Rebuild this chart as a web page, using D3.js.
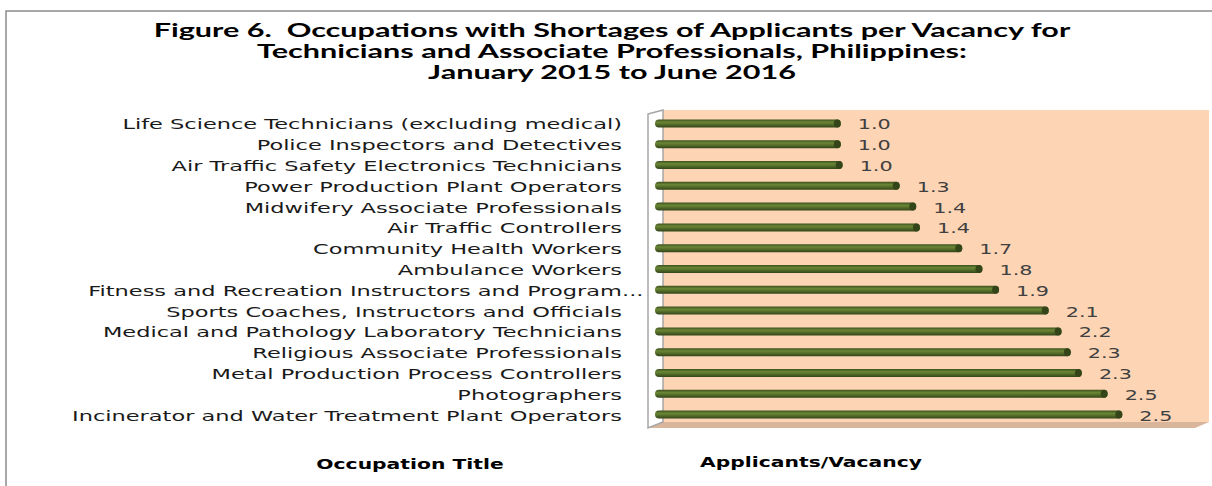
<!DOCTYPE html>
<html>
<head>
<meta charset="utf-8">
<script src="https://cdn.jsdelivr.net/npm/d3@7"></script>
<style>
  html, body { margin: 0; padding: 0; background: #fff; }
  text { font-family: "DejaVu Sans", Verdana, sans-serif; white-space: pre; }
  .title { font-family: Lato, "Open Sans", sans-serif; }
</style>
</head>
<body>
<svg id="chart" width="1212" height="486"></svg>
<script>
'use strict'

// data
const titleLines = [
	'Figure 6.  Occupations with Shortages of Applicants per Vacancy for',
	'Technicians and Associate Professionals, Philippines:',
	'January 2015 to June 2016'
]
const occupations = [
	'Life Science Technicians (excluding medical)',
	'Police Inspectors and Detectives',
	'Air Traffic Safety Electronics Technicians',
	'Power Production Plant Operators',
	'Midwifery Associate Professionals',
	'Air Traffic Controllers',
	'Community Health Workers',
	'Ambulance Workers',
	'Fitness and Recreation Instructors and Program...',
	'Sports Coaches, Instructors and Officials',
	'Medical and Pathology Laboratory Technicians',
	'Religious Associate Professionals',
	'Metal Production Process Controllers',
	'Photographers',
	'Incinerator and Water Treatment Plant Operators'
]
const ratios = [1.01, 1.01, 1.02, 1.33, 1.42, 1.44, 1.67, 1.78, 1.87, 2.14, 2.21, 2.26, 2.32, 2.46, 2.54]
const xTitle = 'Applicants/Vacancy'
const yTitle = 'Occupation Title'

const svg = d3.select('#chart')

const data = occupations.map(function(d, i){
	return {name: d, value: ratios[i]}
})

// the picture was stretched sideways, so the text is too:
// measure a reference string and widen it to the width seen in the picture
function stretchFor(str, size, weight, cls, target){
	let t = svg.append('text')
		.attr('class', cls || null)
		.attr('font-size', size)
		.attr('font-weight', weight)
		.text(str)
	let w = t.node().getComputedTextLength()
	t.remove()
	return target / w
}

const titleStretch = stretchFor(titleLines[0], 18, 'bold', 'title', 917)
const labelStretch = stretchFor(occupations[14], 14, 'normal', null, 550)
const valueStretch = stretchFor('1.0', 14, 'normal', null, 33)
const axisStretch = stretchFor(xTitle, 14, 'bold', null, 222)

let x = d3.scaleLinear().domain([0, 3]).range([655, 1207])
let y = d3.scaleBand()
	.domain(occupations)
	.range([113, 425])
	.paddingInner(0.615)
	.paddingOuter(0.3075)

// outer frame
svg.append('path')
	.attr('d', 'M6,486V11H1212')
	.attr('fill', 'none')
	.attr('stroke', '#8c8c8c')
	.attr('stroke-width', 1.5)

// title
svg.selectAll('.title')
	.data(titleLines)
	.enter().append('text')
	.attr('class', 'title')
	.attr('transform', function(d, i){ return 'translate(612,' + (37 + i * 21) + ') scale(' + titleStretch + ',1)' })
	.attr('text-anchor', 'middle')
	.attr('font-size', 18)
	.attr('font-weight', 'bold')
	.attr('fill', '#000')
	.text(function(d){ return d })

// 3d walls
let defs = svg.append('defs')
let grad = defs.append('linearGradient')
	.attr('id', 'bargrad')
	.attr('x1', 0).attr('y1', 0).attr('x2', 0).attr('y2', 1)
grad.append('stop').attr('offset', '0%').attr('stop-color', '#3e4f1d')
grad.append('stop').attr('offset', '35%').attr('stop-color', '#6a8736')
grad.append('stop').attr('offset', '60%').attr('stop-color', '#56702a')
grad.append('stop').attr('offset', '100%').attr('stop-color', '#34431a')

svg.append('rect')
	.attr('x', 663).attr('y', 110)
	.attr('width', 546).attr('height', 312)
	.attr('fill', '#fdd5b5')

svg.append('polygon')
	.attr('points', '663,422 1209,422 1195,428 648,428')
	.attr('fill', '#d9b69b')

svg.append('polygon')
	.attr('points', '648,114 663,110 663,422 648,428')
	.attr('fill', '#fff')
	.attr('stroke', '#a6a6a6')
	.attr('stroke-width', 1.5)

// bars
let bars = svg.selectAll('.bar')
	.data(data)
	.enter().append('g')
	.attr('class', 'bar')

bars.append('rect')
	.attr('x', x(0))
	.attr('y', function(d){ return y(d.name) })
	.attr('width', function(d){ return x(d.value) - x(0) })
	.attr('height', y.bandwidth())
	.attr('rx', 4).attr('ry', 4)
	.attr('fill', 'url(#bargrad)')

bars.append('ellipse')
	.attr('cx', function(d){ return x(d.value) - 3.5 })
	.attr('cy', function(d){ return y(d.name) + y.bandwidth() / 2 })
	.attr('rx', 3.5)
	.attr('ry', y.bandwidth() / 2)
	.attr('fill', '#34451a')

// value labels
svg.selectAll('.val')
	.data(data)
	.enter().append('text')
	.attr('class', 'val')
	.attr('transform', function(d){
		return 'translate(' + (x(d.value) + 17) + ',' + (y(d.name) + y.bandwidth() / 2 + 6) + ') scale(' + valueStretch + ',1)'
	})
	.attr('font-size', 14)
	.attr('fill', '#404040')
	.text(function(d){ return d3.format('.1f')(d.value) })

// category labels, the truncated one keeps its dots past the edge
let labels = svg.selectAll('.lab')
	.data(data)
	.enter().append('g')
	.attr('class', 'lab')
	.attr('transform', function(d){
		return 'translate(622,' + (y(d.name) + y.bandwidth() / 2 + 6) + ') scale(' + labelStretch + ',1)'
	})

labels.append('text')
	.attr('text-anchor', 'end')
	.attr('font-size', 14)
	.attr('fill', '#1a1a1a')
	.text(function(d){ return d.name.replace('...', '') })

labels.filter(function(d){ return d.name.endsWith('...') })
	.append('text')
	.attr('font-size', 14)
	.attr('fill', '#1a1a1a')
	.text('...')

// axis titles
svg.append('text')
	.attr('transform', 'translate(410,469) scale(' + axisStretch + ',1)')
	.attr('text-anchor', 'middle')
	.attr('font-size', 14)
	.attr('font-weight', 'bold')
	.text(yTitle)

svg.append('text')
	.attr('transform', 'translate(811,467) scale(' + axisStretch + ',1)')
	.attr('text-anchor', 'middle')
	.attr('font-size', 14)
	.attr('font-weight', 'bold')
	.text(xTitle)
</script>
</body>
</html>
